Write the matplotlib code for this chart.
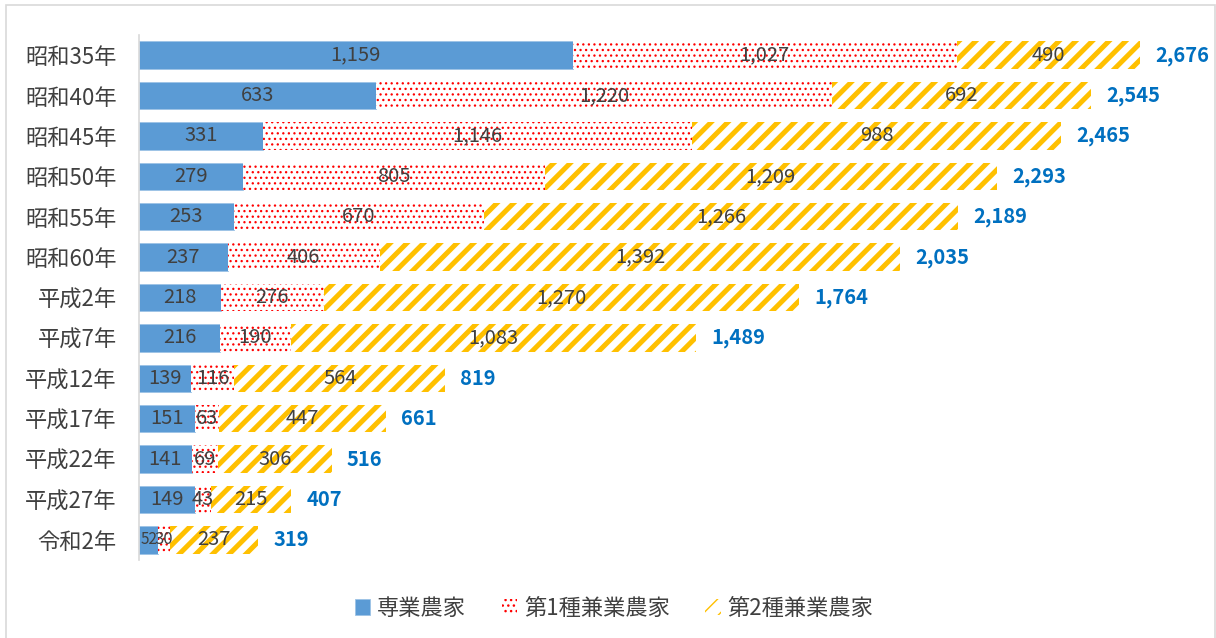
import matplotlib.pyplot as plt
from matplotlib.patches import Rectangle
import numpy as np

plt.rcParams['font.family'] = ['Noto Sans CJK JP', 'DejaVu Sans']

categories = ['昭和35年', '昭和40年', '昭和45年', '昭和50年', '昭和55年', '昭和60年',
              '平成2年', '平成7年', '平成12年', '平成17年', '平成22年', '平成27年', '令和2年']
sengyo = [1159, 633, 331, 279, 253, 237, 218, 216, 139, 151, 141, 149, 52]
kengyo1 = [1027, 1220, 1146, 805, 670, 406, 276, 190, 116, 63, 69, 43, 30]
kengyo2 = [490, 692, 988, 1209, 1266, 1392, 1270, 1083, 564, 447, 306, 215, 237]
totals = [2676, 2545, 2465, 2293, 2189, 2035, 1764, 1489, 819, 661, 516, 407, 319]
series_names = ['専業農家', '第1種兼業農家', '第2種兼業農家']

BLUE = '#5B9BD5'
RED = '#FF0000'
YELLOW = '#FFC000'
TXT = '#404040'

W, H = 1216, 638
fig = plt.figure(figsize=(W / 100, H / 100), dpi=100)
ax = fig.add_axes([139 / W, 1 - 560 / H, (1200 - 139) / W, (560 - 35) / H])

y = np.arange(len(categories))
s1 = np.array(sengyo)
s2 = np.array(kengyo1)
s3 = np.array(kengyo2)
h = 0.68

b1 = ax.barh(y, s1, height=h, color=BLUE, edgecolor='#9DC3E6', linewidth=0.6)
b2 = ax.barh(y, s2, left=s1, height=h, facecolor='white', edgecolor=RED,
             hatch='...', linewidth=0)
b3 = ax.barh(y, s3, left=s1 + s2, height=h, facecolor='white', edgecolor=YELLOW,
             hatch='//', linewidth=0)
for p in b2:
    if hasattr(p, 'set_hatch_linewidth'):
        p.set_hatch_linewidth(0.9)
for p in b3:
    if hasattr(p, 'set_hatch_linewidth'):
        p.set_hatch_linewidth(3.6)

fs = 14.5
for i in range(len(categories)):
    ax.text(s1[i] / 2, y[i], f'{s1[i]:,}', ha='center', va='center', color=TXT,
            fontsize=fs if s1[i] > 80 else 11)
    ax.text(s1[i] + s2[i] / 2, y[i], f'{s2[i]:,}', ha='center', va='center', color=TXT,
            fontsize=fs if s2[i] > 35 else 12)
    ax.text(s1[i] + s2[i] + s3[i] / 2, y[i], f'{s3[i]:,}', ha='center', va='center', color=TXT, fontsize=fs)
    ax.text(totals[i] + 40, y[i], f'{totals[i]:,}', ha='left', va='center', color='#0070C0',
            fontsize=fs, fontweight='bold')

ax.set_xlim(0, 2836)
ax.set_ylim(len(categories) - 0.5, -0.5)
ax.set_yticks(y)
ax.set_yticklabels(categories, fontsize=16, color=TXT)
ax.tick_params(axis='y', length=0, pad=16)
ax.set_xticks([])
for side in ['top', 'right', 'bottom']:
    ax.spines[side].set_visible(False)
ax.spines['left'].set_color('#D9D9D9')
ax.spines['left'].set_linewidth(1.2)

leg = fig.legend([b1[0], b2[0], b3[0]], series_names, loc='center', bbox_to_anchor=(0.505, 1 - 608 / H),
                 ncol=3, frameon=False, fontsize=16, handlelength=0.7, handleheight=0.7,
                 handletextpad=0.3, columnspacing=1.6, labelcolor=TXT)

fig.patches.append(Rectangle((6 / W, -0.01), (1215 - 6) / W, 1 - 5 / H + 0.01,
                             transform=fig.transFigure, fill=False, edgecolor='#D9D9D9',
                             linewidth=1.2))

fig.savefig('out.png', dpi=100)
